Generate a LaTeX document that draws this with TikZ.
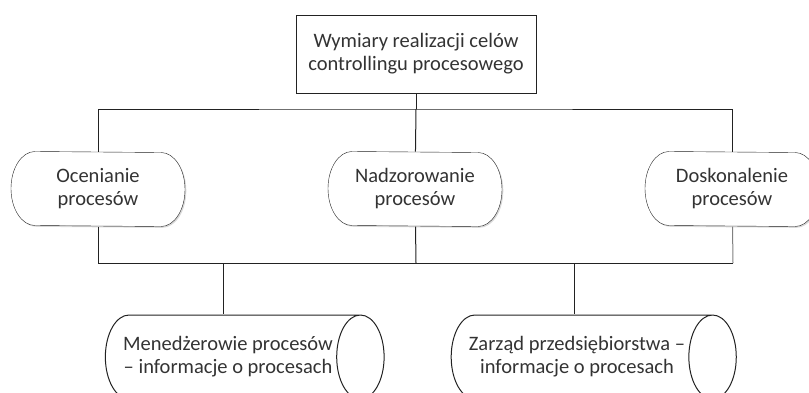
\documentclass[tikz,border=0pt]{standalone}
\usepackage{fontspec}
\setmainfont{Carlito}
\usepackage{tikz}
\usetikzlibrary{shapes.geometric, shadows, backgrounds}
\definecolor{linie}{HTML}{222222}
\definecolor{tekst}{HTML}{333333}

\begin{document}
\begin{tikzpicture}[x=1pt, y=-1pt, line width=1pt]
\tikzstyle{cien}=[drop shadow={shadow xshift=1.3pt, shadow yshift=-1.3pt, fill=gray!60}]
\tikzstyle{cel}=[rectangle, draw=linie, fill=white, cien, minimum width=240pt, minimum height=78pt, align=center]
\tikzstyle{dzial}=[rectangle, minimum width=125pt, minimum height=74pt, inner sep=0pt, align=center]
\tikzstyle{odbiorca}=[cylinder, draw=linie, shape aspect=1, minimum height=276pt, minimum width=84pt, align=center]
\tikzset{every node/.style={font=\fontsize{20.5}{23}\selectfont, text=tekst}}
\useasboundingbox (0,0) rectangle (809,392);

\node[cel] (wym) at (416,54) {Wymiary realizacji celów\\controllingu procesowego};
\node[dzial] (oce) at (98,189) {Ocenianie\\procesów};
\node[dzial] (nad) at (415,189) {Nadzorowanie\\procesów};
\node[dzial] (dos) at (732,189) {Doskonalenie\\procesów};
\node[odbiorca] (men) at (228,357) {Menedżerowie procesów\\– informacje o procesach};
\node[odbiorca] (zar) at (577,357) {Zarząd przedsiębiorstwa –\\informacje o procesach};

% obrys z zaokraglonymi koncami
\begin{scope}[on background layer]
\foreach \n in {oce,nad,dos}
  \draw[linie, fill=white, cien] (\n.north west) arc[start angle=90, end angle=270, x radius=24pt, y radius=37pt]
    -- (\n.south east) arc[start angle=270, end angle=450, x radius=24pt, y radius=37pt] -- cycle;
\end{scope}

\coordinate (gora) at (416,109);
\coordinate (dol) at (416,263);
\coordinate (dolp) at (733,263);
\coordinate (j1) at (223,263);
\coordinate (j2) at (574,263);

\draw[linie] (wym) -- (gora);
\draw[linie] (oce) |- (gora) -| (dos);
\draw[linie] (gora) -- (nad);
\draw[linie] (oce) |- (dolp);
\draw[linie] (nad) -- (dol);
\draw[gray] (dos) -- (dolp);
\draw[linie] (j1) -- (j1 |- men.north);
\draw[linie] (j2) -- (j2 |- zar.north);

\end{tikzpicture}
\end{document}
